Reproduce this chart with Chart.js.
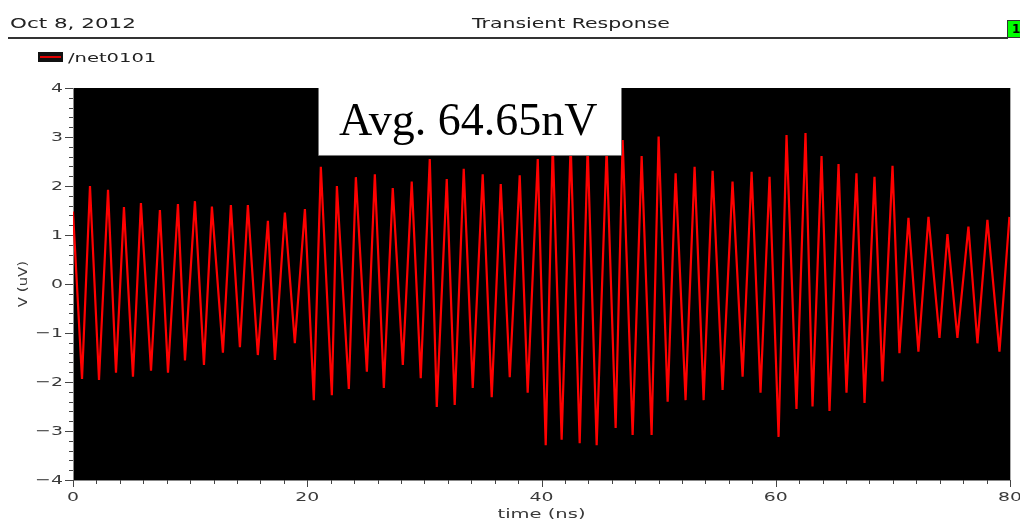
<!DOCTYPE html>
<html><head><meta charset="utf-8">
<script src="https://cdn.jsdelivr.net/npm/chart.js@4.4.0/dist/chart.umd.min.js"></script>
<style>
html,body{margin:0;padding:0;background:#fff;width:1020px;height:521px;overflow:hidden;}
#wrap{position:relative;width:1020px;height:521px;}
canvas{position:absolute;left:0;top:0;}
.t{position:absolute;font-family:"DejaVu Sans";color:#222;white-space:nowrap;transform-origin:0 0;line-height:normal;}
#rule{position:absolute;left:8px;top:37px;width:1000px;height:2px;background:#333;}
#green{position:absolute;left:1007px;top:20px;width:16px;height:16px;background:#00ff00;border:1px solid #333;font:bold 12px "DejaVu Sans";color:#000;line-height:16px;padding-left:4px;box-sizing:content-box;overflow:hidden;}
#sw{position:absolute;left:38px;top:52px;width:25px;height:10px;background:#111;}
#sw i{position:absolute;left:2px;right:2px;top:4px;height:2px;background:#e00000;}
</style></head><body>
<div id="wrap">
<canvas id="c" width="1020" height="521"></canvas>
<div class="t" id="date" style="left:10px;top:15px;font-size:14.5px;transform:scaleX(1.48)">Oct 8, 2012</div>
<div class="t" id="title" style="left:472px;top:15px;font-size:14.5px;transform:scaleX(1.41)">Transient Response</div>
<div id="rule"></div>
<div id="green">1</div>
<div id="sw"><i></i></div>
<div class="t" id="leg" style="left:68px;top:50px;font-size:13px;transform:scaleX(1.5)">/net0101</div>
</div>
<script>
// ---- data (time in ns, voltage in uV) ----
const seriesName = '/net0101';
const times = [0.00,0.77,1.45,2.22,2.99,3.67,4.35,5.12,5.80,6.66,
  7.42,8.11,8.96,9.56,10.41,11.18,11.86,12.80,13.48,14.25,
  14.93,15.78,16.64,17.24,18.09,18.94,19.80,20.56,21.16,22.10,
  22.53,23.55,24.15,25.09,25.77,26.54,27.30,28.16,28.92,29.69,
  30.46,31.06,31.91,32.59,33.36,34.13,34.98,35.75,36.52,37.29,
  38.14,38.82,39.68,40.36,40.96,41.72,42.49,43.26,43.94,44.71,
  45.56,46.33,46.93,47.78,48.55,49.40,50.00,50.77,51.45,52.30,
  53.07,53.84,54.61,55.46,56.31,57.17,57.94,58.70,59.47,60.24,
  60.92,61.77,62.54,63.14,63.91,64.59,65.36,66.04,66.89,67.58,
  68.43,69.11,69.97,70.56,71.33,72.18,73.04,73.98,74.66,75.51,
  76.45,77.22,78.07,79.10,79.95];
const voltages = [1.48,-1.94,2.00,-1.96,1.92,-1.81,1.57,-1.89,1.65,-1.77,
  1.51,-1.81,1.63,-1.56,1.69,-1.65,1.58,-1.40,1.61,-1.29,
  1.61,-1.45,1.29,-1.55,1.46,-1.21,1.53,-2.37,2.39,-2.27,
  2.00,-2.14,2.18,-1.79,2.24,-2.12,1.96,-1.65,2.09,-1.92,
  2.55,-2.51,2.14,-2.47,2.35,-2.12,2.24,-2.31,2.04,-1.90,
  2.22,-2.22,2.55,-3.29,2.85,-3.18,2.85,-3.25,2.80,-3.29,
  2.75,-2.94,2.94,-3.08,2.61,-3.08,3.01,-2.40,2.26,-2.37,
  2.39,-2.37,2.31,-2.16,2.09,-1.89,2.29,-2.22,2.19,-3.12,
  3.04,-2.55,3.08,-2.50,2.61,-2.59,2.45,-2.22,2.26,-2.43,
  2.19,-1.99,2.41,-1.41,1.35,-1.38,1.37,-1.10,1.02,-1.10,
  1.17,-1.21,1.31,-1.38,1.37];
const xTickValues = [0,20,40,60,80];
const xTickLabels = ['0','20','40','60','80'];
const yTickValues = [-4,-3,-2,-1,0,1,2,3,4];
const yTickLabels = ['\u22124','\u22123','\u22122','\u22121','0','1','2','3','4'];
const xTitle = 'time (ns)';
const yTitle = 'V (uV)';
const avgText = 'Avg. 64.65nV';
const avgBoxX = [20.92, 46.87];   // box span in ns
const avgBoxBottom = 2.633;       // box lower edge in uV

const points = times.map((t,i)=>({x:t, y:voltages[i]}));

function wideText(ctx, s, x, y, align, sx){
  const w = ctx.measureText(s).width*sx;
  const x0 = align==='right' ? x-w : align==='center' ? x-w/2 : x;
  ctx.save(); ctx.translate(x0,y); ctx.scale(sx,1); ctx.textAlign='left'; ctx.fillText(s,0,0); ctx.restore();
}

const plotPlugin = {
  id:'plot',
  beforeDraw(chart){
    const {ctx, chartArea:a} = chart;
    ctx.save(); ctx.fillStyle='#000';
    ctx.fillRect(a.left,a.top,a.right-a.left,a.bottom-a.top);
    ctx.restore();
  },
  afterDatasetsDraw(chart){
    const {ctx, chartArea:a, scales:{x,y}} = chart;
    const l = x.getPixelForValue(avgBoxX[0]), r = x.getPixelForValue(avgBoxX[1]);
    const t = a.top, b = y.getPixelForValue(avgBoxBottom);
    ctx.save();
    ctx.fillStyle='#fff'; ctx.fillRect(l,t,r-l,b-t);
    ctx.strokeStyle='#777'; ctx.lineWidth=1;
    ctx.beginPath(); ctx.moveTo(Math.round(l)+0.5,t); ctx.lineTo(Math.round(l)+0.5,Math.round(b)+0.5);
    ctx.lineTo(Math.round(r)-0.5,Math.round(b)+0.5); ctx.lineTo(Math.round(r)-0.5,t); ctx.stroke();
    ctx.fillStyle='#000'; ctx.font='46px "Liberation Serif"'; ctx.textBaseline='alphabetic'; ctx.textAlign='left';
    ctx.fillText(avgText, l+21, t+47);
    ctx.restore();
  },
  afterDraw(chart){
    const {ctx, chartArea:a, scales:{x,y}} = chart;
    ctx.save();
    // right edge line
    ctx.strokeStyle='#aaa'; ctx.lineWidth=1;
    ctx.beginPath(); ctx.moveTo(Math.round(a.right)+0.5,a.top); ctx.lineTo(Math.round(a.right)+0.5,a.bottom); ctx.stroke();
    ctx.strokeStyle='#444';
    // y ticks: minor every 0.2, major every 1
    for(let k=-20;k<=20;k++){
      const v=k/5, py=Math.round(y.getPixelForValue(v))+0.5;
      const len = (k%5===0)?8:4;
      ctx.beginPath(); ctx.moveTo(a.left-len,py); ctx.lineTo(a.left,py); ctx.stroke();
    }
    // x ticks: minor every 2, major every 20
    for(let k=0;k<=40;k++){
      const v=k*2, px=Math.round(x.getPixelForValue(v))+0.5;
      const len = (k%10===0)?7:4;
      ctx.beginPath(); ctx.moveTo(px,a.bottom); ctx.lineTo(px,a.bottom+len); ctx.stroke();
    }
    ctx.fillStyle='#3a3a3a'; ctx.font='13px "DejaVu Sans"';
    ctx.textBaseline='middle';
    yTickValues.forEach((v,i)=>wideText(ctx, yTickLabels[i], a.left-10, y.getPixelForValue(v)+0.5, 'right', 1.45));
    ctx.textBaseline='alphabetic';
    xTickValues.forEach((v,i)=>wideText(ctx, xTickLabels[i], x.getPixelForValue(v), a.bottom+21, 'center', 1.45));
    // axis titles
    wideText(ctx, xTitle, (a.left+a.right)/2, a.bottom+38, 'center', 1.5);
    ctx.save(); ctx.translate(27,(a.top+a.bottom)/2); ctx.rotate(-Math.PI/2);
    ctx.textBaseline='alphabetic'; wideText(ctx, yTitle, 0, 0, 'center', 1.15); ctx.restore();
    ctx.restore();
  }
};

new Chart(document.getElementById('c'), {
  type:'line',
  data:{datasets:[{label:seriesName, data:points, borderColor:'#ff0000', borderWidth:2.2,
    pointRadius:0, tension:0, fill:false, borderJoinStyle:'bevel'}]},
  options:{
    responsive:false, animation:false, events:[],
    layout:{padding:{left:0,right:10,top:88,bottom:0}},
    plugins:{legend:{display:false}, tooltip:{enabled:false}, title:{display:false}},
    scales:{
      x:{type:'linear', min:0, max:80,
        ticks:{display:false, stepSize:20}, grid:{display:false},
        border:{display:true,color:'#888',width:1},
        afterFit(s){ s.height=41; s.paddingLeft=0; s.paddingRight=0; }},
      y:{type:'linear', min:-4, max:4,
        ticks:{display:false, stepSize:1}, grid:{display:false},
        border:{display:true,color:'#888',width:1},
        afterFit(s){ s.width=73; s.paddingTop=0; s.paddingBottom=0; }}
    }
  },
  plugins:[plotPlugin]
});
</script>
</body></html>
